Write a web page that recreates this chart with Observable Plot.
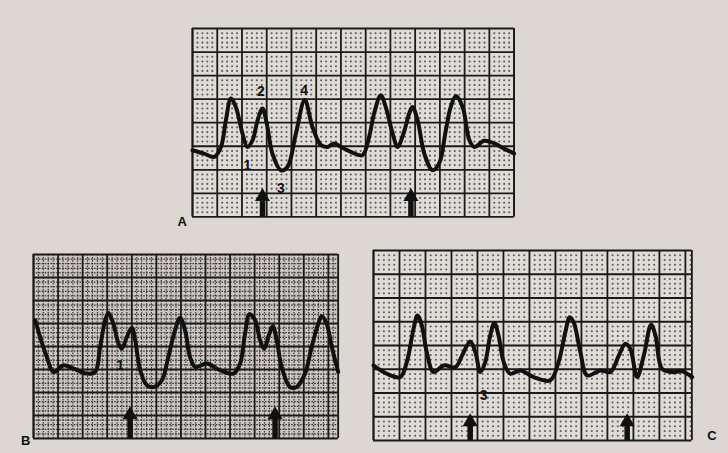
<!DOCTYPE html>
<html><head><meta charset="utf-8">
<script src="https://cdn.jsdelivr.net/npm/d3@7"></script>
<script src="https://cdn.jsdelivr.net/npm/@observablehq/plot@0.6"></script>
<style>
html,body{margin:0;padding:0;background:#dcd7d3;}
#page{position:relative;width:728px;height:453px;overflow:hidden;background:#dcd7d3;font-family:"Liberation Sans",Arial,sans-serif;}
#page svg{position:absolute;}
</style></head><body><div id="page"></div>
<script>
// Panel A trace (x, y in major grid divisions)
const aX = [0,0.47,0.88,1.15,1.35,1.55,1.75,2.02,2.22,2.43,2.63,2.83,3.0,3.23,3.57,3.84,4.18,4.54,4.85,5.19,5.46,5.73,6.0,6.4,6.87,7.14,7.34,7.61,7.81,8.09,8.29,8.53,8.76,8.89,9.10,9.37,9.7,9.97,10.24,10.44,10.65,10.92,11.19,11.39,11.79,12.2,12.6,13];
const aY = [2.83,2.69,2.55,2.97,4.1,5.03,4.67,3.54,2.97,3.26,4.1,4.6,3.97,2.69,1.98,2.12,3.54,4.96,3.82,3.05,2.97,3.12,2.97,2.76,2.62,3.4,4.39,5.17,4.67,3.54,2.97,3.54,4.39,4.67,4.1,2.69,1.98,2.27,3.68,4.67,5.13,4.67,3.26,2.97,3.23,3.12,2.9,2.69];
const aArrowX = [2.83, 8.83];
const aArrowTip = 1.2;
const aLabelText = ["1","2","3","4"];
const aLabelX = [2.22, 2.76, 3.57, 4.51];
const aLabelY = [2.2, 5.31, 1.2, 5.38];

// Panel B trace
const bX = [0.07,0.27,0.54,0.81,1.22,1.63,2.17,2.51,2.71,2.92,3.05,3.25,3.46,3.59,3.80,4.0,4.14,4.34,4.61,4.88,5.22,5.49,5.76,5.97,6.17,6.37,6.58,7.05,7.59,8.14,8.41,8.61,8.79,9.02,9.22,9.38,9.6,9.74,9.9,10.1,10.44,10.71,11.05,11.32,11.59,11.73,11.93,12.14,12.4];
const bY = [5.14,4.41,3.55,2.89,3.18,3.04,2.82,2.89,3.98,5.14,5.46,4.99,4.12,3.91,4.41,4.82,4.27,2.97,2.32,2.24,2.53,3.55,4.70,5.25,4.70,3.55,3.11,3.26,2.97,2.82,3.26,4.56,5.40,5.14,4.27,3.91,4.56,4.88,4.27,3.11,2.24,2.24,2.82,3.98,4.99,5.31,4.99,3.98,2.89];
const bArrowX = [3.93, 9.83];
const bArrowTip = 1.37;
const bLabelText = ["1"];
const bLabelX = [3.53];
const bLabelY = [3.18];

// Panel C trace
const cX = [0,0.51,1.03,1.28,1.54,1.69,1.86,2.05,2.31,2.70,3.15,3.41,3.72,3.92,4.11,4.30,4.49,4.65,4.81,5.01,5.26,5.65,6.16,6.80,7.12,7.38,7.55,7.70,7.96,8.22,8.73,9.11,9.44,9.69,9.88,10.14,10.40,10.68,10.85,11.10,11.49,11.87,12.26];
const cY = [3.16,2.81,2.67,3.30,4.70,5.26,4.84,3.72,2.88,3.16,3.09,3.58,4.17,3.72,2.88,3.30,4.42,4.95,4.42,3.30,2.81,2.95,2.67,2.53,3.30,4.56,5.19,4.98,3.72,2.74,2.95,2.88,3.58,4.07,3.86,2.67,3.58,4.87,4.42,3.02,2.88,2.91,2.67];
const cArrowX = [3.72, 9.76];
const cArrowTip = 1.12;
const cLabelText = ["3"];
const cLabelX = [4.24];
const cLabelY = [1.89];

const panelLetters = ["A","B","C"];

const page = document.getElementById("page");

function panel(p){
  const w = p.right - p.left, h = p.bottom - p.top;
  const m = p.margin;
  function i5(v){ return Math.abs(v - Math.round(v)) > 1e-6; }
  const majX = d3.range(0, Math.floor(p.cols + 1e-6) + 1);
  const majY = d3.range(0, p.rows + 1);
  const minX = d3.range(1, Math.floor(p.cols*5 + 1e-6) + 1).map(i => i/5).filter(i5);
  const minY = d3.range(1, p.rows*5).map(i => i/5).filter(i5);
  const wave = p.x.map((x, i) => ({x, y: p.y[i]}));
  const labels = p.labelText.map((t, i) => ({t, x: p.labelX[i], y: p.labelY[i]}));
  const pxPerDivY = h / p.rows;
  const headCenter = p.tip - 8 / pxPerDivY;
  const shaftTop = p.tip - 10 / pxPerDivY;
  let minor;
  if (p.dense) {
    minor = [
      Plot.ruleX(minX, {stroke: "#333", strokeWidth: 1.1, strokeDasharray: "1.6,1.3"}),
      Plot.ruleY(minY, {stroke: "#333", strokeWidth: 1.2, strokeDasharray: "1.6,1.3"})
    ];
  } else {
    const pts = d3.cross(minX, minY).map(([x, y]) => ({x, y}));
    minor = [Plot.dot(pts, {x: "x", y: "y", r: 1.05, fill: "#5f5b59", stroke: null})];
  }
  const edges = [0, p.cols];
  const svg = Plot.plot({
    width: w + m.left + m.right,
    height: h + m.top + m.bottom,
    marginTop: m.top, marginRight: m.right, marginBottom: m.bottom, marginLeft: m.left,
    x: {domain: [0, p.cols], axis: null},
    y: {domain: [0, p.rows], axis: null},
    style: {background: "transparent", overflow: "visible", fontFamily: "'Liberation Sans', Arial, sans-serif"},
    marks: [
      Plot.frame({fill: p.paper, stroke: null}),
      ...minor,
      Plot.ruleX(majX, {stroke: "#1a1a1a", strokeWidth: 1.8}),
      Plot.ruleX(edges, {stroke: "#1a1a1a", strokeWidth: 1.8}),
      Plot.ruleY(majY, {stroke: "#1a1a1a", strokeWidth: 1.8}),
      Plot.line(wave, {x: "x", y: "y", stroke: "#111", strokeWidth: 4, curve: "catmull-rom", strokeLinejoin: "round", strokeLinecap: "round"}),
      Plot.ruleX(p.arrowX, {x: d => d, y1: 0, y2: shaftTop, stroke: "#111", strokeWidth: 5.5}),
      Plot.dot(p.arrowX, {x: d => d, y: headCenter, symbol: "triangle", r: 5.6, fill: "#111", stroke: null}),
      Plot.text(labels, {x: "x", y: "y", text: "t", fontSize: 14, fontWeight: "bold", fill: "#111"}),
      Plot.text([p.letter], {x: p.letterX, y: p.letterY, text: d => d, fontSize: 13, fontWeight: "bold", fill: "#111"})
    ]
  });
  svg.style.left = (p.left - m.left) + "px";
  svg.style.top = (p.top - m.top) + "px";
  page.appendChild(svg);
}

panel({left: 191.7, right: 513.3, top: 28.3, bottom: 216.7, cols: 13, rows: 8,
  x: aX, y: aY, arrowX: aArrowX, tip: aArrowTip,
  labelText: aLabelText, labelX: aLabelX, labelY: aLabelY,
  letter: panelLetters[0], letterX: -0.42, letterY: -0.2,
  paper: "#dfdbd7", dense: false, margin: {top: 4, right: 4, bottom: 14, left: 18}});

panel({left: 33.3, right: 338, top: 254, bottom: 438, cols: 12.4, rows: 8,
  x: bX, y: bY, arrowX: bArrowX, tip: bArrowTip,
  labelText: bLabelText, labelX: bLabelX, labelY: bLabelY,
  letter: panelLetters[1], letterX: -0.32, letterY: -0.12,
  paper: "#cbc6c2", dense: true, margin: {top: 4, right: 4, bottom: 12, left: 16}});

panel({left: 373.3, right: 691.7, top: 250, bottom: 440, cols: 12.25, rows: 8,
  x: cX, y: cY, arrowX: cArrowX, tip: cArrowTip,
  labelText: cLabelText, labelX: cLabelX, labelY: cLabelY,
  letter: panelLetters[2], letterX: 13.02, letterY: 0.21,
  paper: "#dfdbd7", dense: false, margin: {top: 4, right: 30, bottom: 8, left: 4}});
</script>
</body></html>
